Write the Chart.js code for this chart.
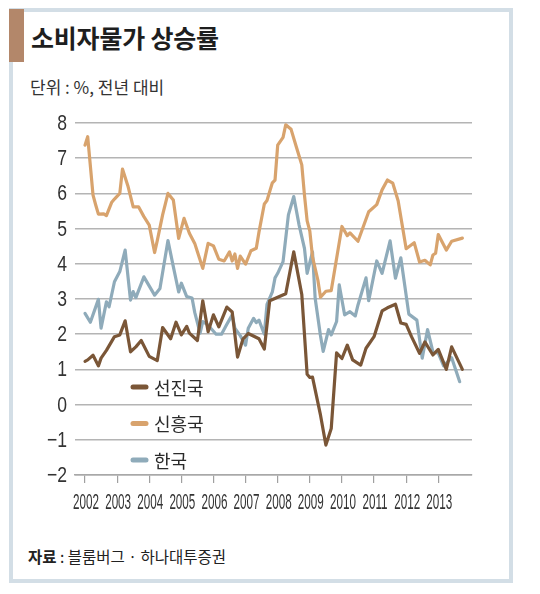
<!DOCTYPE html>
<html><head><meta charset="utf-8">
<script src="https://cdn.jsdelivr.net/npm/chart.js@4"></script>
<style>
html,body{margin:0;padding:0;background:#fff;}
body{width:540px;height:594px;position:relative;overflow:hidden;font-family:'Noto Sans CJK KR','Noto Sans',sans-serif;color:#222;}
#card{position:absolute;left:9px;top:8px;width:496px;height:567px;border:4px solid #d3dee6;background:#fff;}
#bar{position:absolute;left:9px;top:9px;width:15px;height:53px;background:#b3876a;}
#title{position:absolute;left:31px;top:19px;font-size:25px;line-height:36px;font-weight:bold;color:#1e1e1e;letter-spacing:-0.2px;}
#unit{position:absolute;left:30px;top:75px;font-size:17px;line-height:24px;color:#333;}
#src{position:absolute;left:28px;top:544px;font-size:15.5px;line-height:24px;color:#222;}
#src b{font-weight:bold;}
canvas{position:absolute;left:0;top:0;}
</style></head>
<body>
<div id="card"></div>
<div id="bar"></div>
<div id="title">소비자물가 상승률</div>
<div id="unit">단위 : %, 전년 대비</div>
<div id="src"><b>자료</b> : 블룸버그 · 하나대투증권</div>
<canvas id="c" width="540" height="594"></canvas>
<script>
// x values are months counted from January 2002
const yearLabels = ['2002','2003','2004','2005','2006','2007','2008','2009','2010','2011','2012','2013'];
const seriesNames = ['선진국','신흥국','한국'];

const devX = [0,1,3,5,6,8,11,13,15,17,19,21,24,27,29,32,34,36,38,39,42,44,46,48,50,53,55,57,59,61,65,67,69,72,75,78,81,83,84,85,88,90,92,94,96,98,100,103,105,108,111,113,116,118,120,122,125,127,130,132,135,137,141];
const devY = [1.23,1.27,1.40,1.10,1.32,1.54,1.93,1.98,2.38,1.50,1.64,1.82,1.37,1.25,2.19,1.87,2.34,1.98,2.22,2.03,1.82,2.95,2.07,2.55,2.21,2.77,2.63,1.35,1.86,2.02,1.87,1.58,2.95,3.05,3.15,4.34,3.13,0.86,0.77,0.78,-0.30,-1.15,-0.68,1.47,1.31,1.69,1.27,1.12,1.60,1.93,2.66,2.75,2.85,2.32,2.28,1.93,1.46,1.78,1.41,1.57,1.00,1.64,1.00];

const emX = [0,1,3,4,5,7,8,10,11,13,14,16,18,20,22,24,26,27,29,31,33,35,37,39,41,42,44,46,48,50,52,54,55,56,57,58,60,62,64,65,67,68,70,71,72,74,75,77,79,81,82,83,84,85,87,88,90,92,96,98,99,102,106,109,111,113,115,117,120,123,125,127,129,130,131,132,135,137,141];
const emY = [7.37,7.61,5.95,5.67,5.41,5.42,5.37,5.75,5.84,6.00,6.69,6.22,5.62,5.62,5.34,5.10,4.32,4.66,5.39,6.00,5.81,4.72,5.29,4.87,4.58,4.34,3.87,4.58,4.51,4.13,4.08,4.34,4.08,4.28,3.87,4.22,3.99,4.37,4.44,4.90,5.70,5.80,6.30,6.38,7.37,7.59,7.95,7.82,7.31,6.81,5.95,5.22,4.93,4.20,3.54,3.05,3.22,3.24,5.06,4.80,4.88,4.64,5.48,5.68,6.10,6.38,6.29,5.79,4.43,4.60,4.05,4.10,3.97,4.25,4.30,4.83,4.39,4.64,4.73];

const krX = [0,2,5,6,8,9,11,13,15,17,18,19,22,26,28,31,33,35,36,38,40,41,43,44,46,47,49,51,53,55,56,58,60,61,63,64,65,67,68,70,71,72,74,76,78,80,82,83,85,86,88,89,91,92,94,95,97,99,101,102,105,106,109,111,114,116,118,121,124,126,128,130,132,134,137,140];
const krY = [2.59,2.34,2.99,2.17,2.92,2.78,3.49,3.78,4.39,2.97,3.21,3.04,3.63,3.11,3.30,4.66,3.92,3.20,3.45,3.07,3.03,2.62,2.03,2.36,2.26,2.17,2.00,2.00,2.28,2.55,2.17,1.96,1.69,2.17,2.45,2.33,2.40,2.00,2.85,3.20,3.60,3.73,4.06,5.39,5.91,5.10,4.44,3.73,4.34,3.02,1.95,1.51,2.13,1.98,2.36,3.40,2.55,2.64,2.52,2.83,3.60,2.95,4.08,3.73,4.65,3.59,4.17,2.57,2.40,1.32,2.13,1.50,1.46,1.10,1.33,0.65];

const colors = ['#7a5637','#d8a36d','#8fabba'];
const pts = (xs, ys) => xs.map((x, i) => ({x: x, y: ys[i]}));

const legendPlugin = {
  id: 'inLegend',
  afterDraw(chart) {
    const ctx = chart.ctx;
    ctx.save();
    chart.data.datasets.forEach((ds, i) => {
      const y = 387 + i * 36.5;
      ctx.strokeStyle = ds.borderColor;
      ctx.lineWidth = 5;
      ctx.lineCap = 'round';
      ctx.beginPath(); ctx.moveTo(133, y); ctx.lineTo(146, y); ctx.stroke();
      ctx.fillStyle = '#2a2a2a';
      ctx.font = '18px "Noto Sans CJK KR"';
      ctx.textBaseline = 'middle';
      ctx.textAlign = 'left';
      ctx.fillText(ds.label, 154, y + 1);
    });
    ctx.restore();
  }
};

const axisLabelPlugin = {
  id: 'axisLabels',
  afterDraw(chart) {
    const ctx = chart.ctx;
    const sx = chart.scales.x, sy = chart.scales.y;
    ctx.save();
    ctx.fillStyle = '#333';
    ctx.textBaseline = 'middle';
    ctx.font = '22px "Liberation Sans"';
    ctx.textAlign = 'center';
    sx.ticks.forEach((t, i) => {
      const px = sx.getPixelForValue(t.value);
      ctx.save();
      ctx.translate(px + 1, 503);
      ctx.scale(0.53, 1);
      ctx.fillText(yearLabels[i], 0, 0);
      ctx.restore();
    });
    ctx.font = '22px "Liberation Sans"';
    ctx.textAlign = 'right';
    sy.ticks.forEach(t => {
      const py = sy.getPixelForValue(t.value);
      const v = t.value;
      const txt = v < 0 ? '\u2212' + Math.abs(v) : String(v);
      ctx.save();
      ctx.translate(67, py + 1);
      ctx.scale(0.8, 1);
      ctx.fillText(txt, 0, 0);
      ctx.restore();
    });
    ctx.restore();
  }
};

new Chart(document.getElementById('c'), {
  type: 'line',
  data: {
    datasets: [
      {label: seriesNames[0], data: pts(devX, devY), borderColor: colors[0]},
      {label: seriesNames[1], data: pts(emX, emY), borderColor: colors[1]},
      {label: seriesNames[2], data: pts(krX, krY), borderColor: colors[2]}
    ]
  },
  options: {
    responsive: false,
    animation: false,
    devicePixelRatio: 1,
    layout: {padding: {left: 0, top: 123, right: 68, bottom: 79}},
    elements: {
      line: {borderWidth: 3.2, tension: 0, borderJoinStyle: 'round', borderCapStyle: 'round', fill: false},
      point: {radius: 0, hoverRadius: 0}
    },
    plugins: {legend: {display: false}, tooltip: {enabled: false}},
    scales: {
      x: {
        type: 'linear',
        min: -3.74, max: 144.6,
        afterBuildTicks: s => { s.ticks = yearLabels.map((y, i) => ({value: i * 12})); },
        afterFit: s => { s.height = 40; },
        ticks: {display: false},
        grid: {drawOnChartArea: false, drawTicks: true, tickLength: 8, color: '#a0a0a0', lineWidth: 1.2},
        border: {display: true, color: '#a8a8a8', width: 1.5}
      },
      y: {
        min: -2, max: 8,
        afterFit: s => { s.width = 75; },
        ticks: {stepSize: 1, display: false},
        grid: {color: '#b4b4b4', lineWidth: 1.5, drawTicks: false},
        border: {display: false}
      }
    }
  },
  plugins: [legendPlugin, axisLabelPlugin]
});
</script>
</body></html>
